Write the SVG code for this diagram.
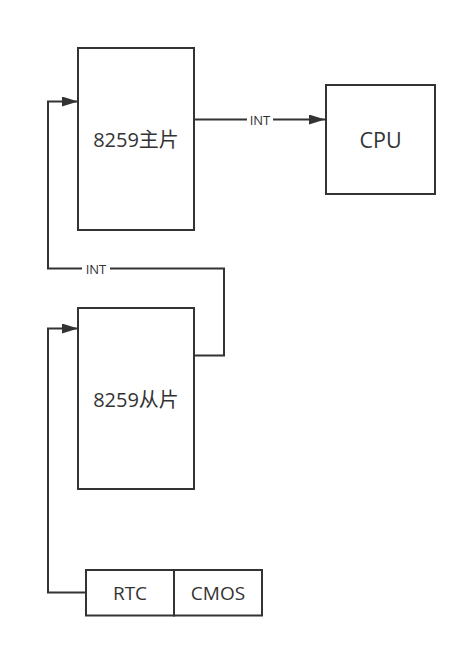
<svg xmlns="http://www.w3.org/2000/svg" width="467" height="648" viewBox="0 0 467 648">
<style>
.box{fill:#fff;stroke:#333;stroke-width:2}
.ln{fill:none;stroke:#333;stroke-width:2}
.t{font-family:"Open Sans","Noto Sans CJK SC",sans-serif;fill:#333;text-anchor:middle;dominant-baseline:central}
.lbl{font-family:"Open Sans","Noto Sans CJK SC",sans-serif;fill:#333;font-size:13px;text-anchor:middle;dominant-baseline:central}
</style>
<defs>
<marker id="ah" markerWidth="16" markerHeight="10" refX="16" refY="5" orient="auto" markerUnits="userSpaceOnUse">
<path d="M0,0 L16,5 L0,10 Z" fill="#333"/>
</marker>
</defs>
<rect width="467" height="648" fill="#fff"/>
<g id="connectors">
<path class="ln" d="M194,119.5 H325" marker-end="url(#ah)"/>
<rect x="247" y="112" width="26" height="15" fill="#fff"/>
<text class="lbl" x="260" y="119.5">INT</text>
<path class="ln" d="M194,355.5 H224 V268.5 H48 V101.5 H78" marker-end="url(#ah)"/>
<rect x="82" y="261" width="28" height="15" fill="#fff"/>
<text class="lbl" x="96" y="268.5">INT</text>
<path class="ln" d="M86,592.5 H48 V328.5 H78" marker-end="url(#ah)"/>
</g>
<g id="master">
<rect class="box" x="78" y="48" width="116" height="182"/>
<text class="t" x="136" y="139" font-size="20">8259主片</text>
</g>
<g id="cpu">
<rect class="box" x="326" y="85" width="109" height="109"/>
<text class="t" x="380.5" y="139" font-size="21.5">CPU</text>
</g>
<g id="slave">
<rect class="box" x="78" y="308" width="116" height="181"/>
<text class="t" x="136" y="399" font-size="20">8259从片</text>
</g>
<g id="rtc">
<rect class="box" x="86" y="570" width="88" height="45.5"/>
<text class="t" x="130" y="593" font-size="19">RTC</text>
</g>
<g id="cmos">
<rect class="box" x="174" y="570" width="88" height="45.5"/>
<text class="t" x="218" y="593" font-size="19">CMOS</text>
</g>
</svg>
